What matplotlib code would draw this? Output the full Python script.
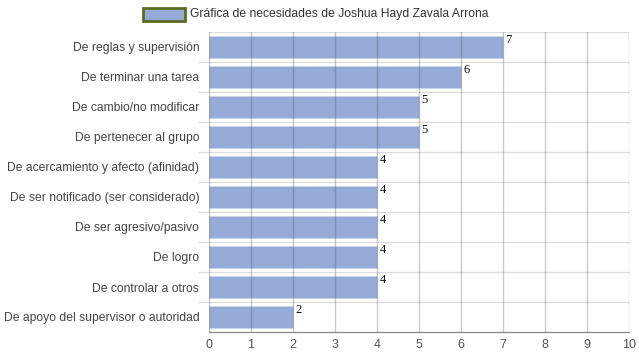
import matplotlib.pyplot as plt
from matplotlib.patches import Rectangle

categories = [
    'De reglas y supervisión',
    'De terminar una tarea',
    'De cambio/no modificar',
    'De pertenecer al grupo',
    'De acercamiento y afecto (afinidad)',
    'De ser notificado (ser considerado)',
    'De ser agresivo/pasivo',
    'De logro',
    'De controlar a otros',
    'De apoyo del supervisor o autoridad',
]
values = [7, 6, 5, 5, 4, 4, 4, 4, 4, 2]
x_ticks = list(range(0, 11))
legend_label = 'Gráfica de necesidades de Joshua Hayd Zavala Arrona'

plt.rcParams['font.family'] = ['Liberation Sans', 'DejaVu Sans']

fig = plt.figure(figsize=(6.39, 3.6), dpi=100)
ax = fig.add_axes([209 / 639, 28 / 360, 420 / 639, 300 / 360])

pos = list(range(len(categories)))
ax.barh(pos, values, height=0.74, color='#95aad6', edgecolor='#c9d4ec',
        linewidth=0.6, zorder=2)

for y, v in zip(pos, values):
    ax.text(v + 0.06, y - 0.24, str(v), family='Liberation Serif',
            fontsize=9, color='#111', va='center', ha='left', zorder=4)

ax.set_xlim(0, 10)
ax.set_ylim(len(categories) - 0.5, -0.5)
ax.set_xticks(x_ticks)
ax.set_xticklabels([str(t) for t in x_ticks], color='#555', fontsize=9)
ax.set_yticks(pos)
ax.set_yticklabels(categories, color='#444', fontsize=8.7)
ax.tick_params(axis='y', length=0, pad=7)
ax.tick_params(axis='x', length=0, pad=5)

for t in x_ticks[1:]:
    ax.axvline(t, color='#444', alpha=0.28, linewidth=1.0, zorder=3)
for b in [i + 0.5 for i in range(len(categories) - 1)]:
    ax.axhline(b, color='#dcdcdc', linewidth=0.9, zorder=1, xmin=-0.025,
               clip_on=False)
ax.axhline(-0.5, color='#dcdcdc', linewidth=0.9, zorder=1)

for s in ['top', 'right', 'left']:
    ax.spines[s].set_visible(False)
ax.spines['bottom'].set_color('#888')
ax.spines['bottom'].set_linewidth(0.9)
ax.axvline(0, color='#444', alpha=0.35, linewidth=0.9, zorder=3)

fig.patches.append(Rectangle((143 / 639, 339 / 360), 42 / 639, 13 / 360,
                             transform=fig.transFigure, facecolor='#95aad6',
                             edgecolor='#5a6b1f', linewidth=2))
fig.text(190 / 639, 346 / 360, legend_label, fontsize=8.75, color='#333',
         va='center', ha='left')

fig.savefig('out.png', dpi=100)
